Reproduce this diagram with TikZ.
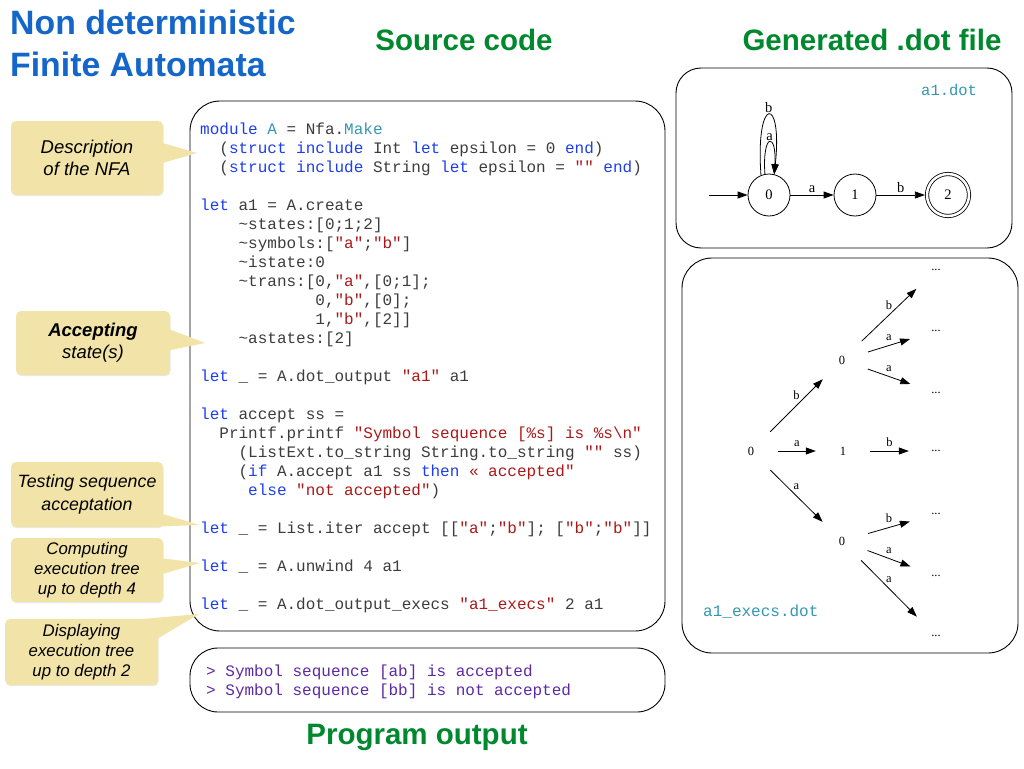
\documentclass[tikz,border=0pt]{standalone}
\usepackage{fontspec}
\setmainfont{Liberation Serif}
\newfontfamily\sansfont{Liberation Sans}
\newfontfamily\codefont{Liberation Mono}
\usetikzlibrary{arrows.meta,calc,shadows}

\definecolor{titleblue}{RGB}{20,102,200}
\definecolor{titlegreen}{RGB}{0,136,46}
\definecolor{kwblue}{RGB}{28,62,235}
\definecolor{modteal}{RGB}{52,150,178}
\definecolor{strred}{RGB}{172,24,24}
\definecolor{codegray}{RGB}{60,60,60}
\definecolor{outpurple}{RGB}{92,40,165}
\definecolor{notefill}{RGB}{242,228,168}

% syntax colouring helpers for the OCaml listing
\newcommand\kw[1]{\textcolor{kwblue}{#1}}
\newcommand\cmod[1]{\textcolor{modteal}{#1}}
\newcommand\cstr[1]{\textcolor{strred}{#1}}

\begin{document}
\begin{tikzpicture}[x=1pt,y=-1pt,
  panel/.style={draw=black, line width=0.9pt, inner sep=0pt},
  title/.style={anchor=base west, inner sep=0pt, text=titleblue,
    font=\sansfont\bfseries\fontsize{33.8}{40}\selectfont},
  heading/.style={anchor=base, inner sep=0pt, text=titlegreen,
    font=\sansfont\bfseries\fontsize{29.5}{34}\selectfont},
  code/.style={anchor=base west, inner sep=0pt, text=codegray,
    font=\codefont\fontsize{16}{19}\selectfont},
  outline/.style={code, text=outpurple},
  filename/.style={anchor=base west, inner sep=0pt, text=modteal,
    font=\codefont\fontsize{15.5}{18}\selectfont},
  note/.style={fill=notefill, rounded corners=5pt, inner sep=0pt, align=center,
    text=black, font=\sansfont\itshape\fontsize{18.5}{22}\selectfont,
    drop shadow={opacity=0.18, shadow xshift=0.6pt, shadow yshift=-1.2pt}},
  smallnote/.style={note, font=\sansfont\itshape\fontsize{16.8}{20}\selectfont},
  state/.style={circle, draw, line width=0.8pt, minimum size=42pt, inner sep=0pt,
    font=\fontsize{14.5}{16}\selectfont},
  dotedge/.style={line width=0.8pt, -{Triangle[length=10pt,width=7pt]}},
  elabel/.style={font=\fontsize{14.5}{16}\selectfont, inner sep=1.5pt},
  tnode/.style={circle, minimum size=54pt, inner sep=0pt,
    font=\fontsize{12.5}{14}\selectfont},
  tedge/.style={line width=0.8pt, -{Triangle[length=10pt,width=7pt]}},
  tlabel/.style={font=\fontsize{12.5}{14}\selectfont, inner sep=1.5pt}
]
\useasboundingbox (0,0) rectangle (1024,768);

% ---------- titles ----------
\node[title] (title1) at (10,35) {Non deterministic};
\node[title] (title2) at (10,76) {Finite Automata};
\node[heading] (hsrc) at (464,50) {Source code};
\node[heading] (hdot) at (872,50) {Generated .dot file};
\node[heading] (hout) at (417,744) {Program output};

% ---------- panels ----------
\node[panel, rounded corners=30pt, minimum width=475pt, minimum height=530pt] (codebox) at (427.5,366) {};
\node[panel, rounded corners=28pt, minimum width=475pt, minimum height=64pt] (outbox) at (427.5,680) {};
\node[panel, rounded corners=25pt, minimum width=336pt, minimum height=180pt] (dotbox) at (844,158) {};
\node[panel, rounded corners=30pt, minimum width=336pt, minimum height=395pt] (execbox) at (850,455.5) {};

% ---------- source code ----------
\node[code] (cl1)  at (200,134.5) {\kw{module} \cmod{A} = Nfa.\cmod{Make}};
\node[code] (cl2)  at (219.2,153.5) {(\kw{struct} \kw{include} Int \kw{let} epsilon = 0 \kw{end})};
\node[code] (cl3)  at (219.2,172.5) {(\kw{struct} \kw{include} String \kw{let} epsilon = \cstr{""} \kw{end})};
\node[code] (cl5)  at (200,210.5) {\kw{let} a1 = A.create};
\node[code] (cl6)  at (238.4,229.5) {\textasciitilde states:[0;1;2]};
\node[code] (cl7)  at (238.4,248.5) {\textasciitilde symbols:[\cstr{"a"};\cstr{"b"}]};
\node[code] (cl8)  at (238.4,267.5) {\textasciitilde istate:0};
\node[code] (cl9)  at (238.4,286.5) {\textasciitilde trans:[0,\cstr{"a"},[0;1];};
\node[code] (cl10) at (315.2,305.5) {0,\cstr{"b"},[0];};
\node[code] (cl11) at (315.2,324.5) {1,\cstr{"b"},[2]]};
\node[code] (cl12) at (238.4,343.5) {\textasciitilde astates:[2]};
\node[code] (cl14) at (200,381.5) {\kw{let} \_ = A.dot\_output \cstr{"a1"} a1};
\node[code] (cl16) at (200,419.5) {\kw{let} accept ss =};
\node[code] (cl17) at (219.2,438.5) {Printf.printf \cstr{"Symbol sequence [\%s] is \%s\textbackslash n"}};
\node[code] (cl18) at (238.4,457.5) {(ListExt.to\_string String.to\_string \cstr{""} ss)};
\node[code] (cl19) at (238.4,476.5) {(\kw{if} A.accept a1 ss \kw{then} \cstr{« accepted"}};
\node[code] (cl20) at (248,495.5) {\kw{else} \cstr{"not accepted"})};
\node[code] (cl22) at (200,533.5) {\kw{let} \_ = List.iter accept [[\cstr{"a"};\cstr{"b"}]; [\cstr{"b"};\cstr{"b"}]]};
\node[code] (cl24) at (200,571.5) {\kw{let} \_ = A.unwind 4 a1};
\node[code] (cl26) at (200,609.5) {\kw{let} \_ = A.dot\_output\_execs \cstr{"a1\_execs"} 2 a1};

% ---------- program output ----------
\node[outline] (out1) at (206,676) {> Symbol sequence [ab] is accepted};
\node[outline] (out2) at (206,695) {> Symbol sequence [bb] is not accepted};

% ---------- a1.dot : the automaton ----------
\node[filename] (dotname) at (921,95) {a1.dot};
\node[state] (q0) at (769,195) {0};
\node[state] (q1) at (855,195) {1};
\node[state, double, double distance=2.5pt, outer sep=2.1pt] (q2) at (948,195) {2};
\coordinate (init) at (709,195);
\draw[dotedge] (init) -- (q0);
\draw[dotedge] (q0) -- (q1) node[elabel, midway, above=0.5pt] {a};
\draw[dotedge] (q1) -- (q2) node[elabel, midway, above=0.5pt] {b};
\draw[dotedge] (q0.112) .. controls (755,95) and (783,95) .. (q0.76)
  node[elabel, pos=0.5, above=0pt] {b};
\draw[dotedge] (q0.101) .. controls (762,132) and (777,132) .. (q0.76)
  node[elabel, pos=0.5, above=0pt] {a};

% ---------- a1_execs.dot : execution tree ----------
\node[filename, font=\codefont\fontsize{16}{18}\selectfont] (execname) at (703,616) {a1\_execs.dot};
\node[tnode] (r0) at (751,451) {0};
\node[tnode] (u0) at (842,360) {0};
\node[tnode] (m1) at (843,451) {1};
\node[tnode] (l0) at (842,541) {0};
\node[tnode] (d1) at (936,270) {...};
\node[tnode] (d2) at (936,331) {...};
\node[tnode] (d3) at (936,393) {...};
\node[tnode] (d4) at (936,451) {...};
\node[tnode] (d5) at (936,514) {...};
\node[tnode] (d6) at (936,576) {...};
\node[tnode] (d7) at (936,636) {...};
\draw[tedge] (r0) -- (u0) node[tlabel, midway, above=4pt] {b};
\draw[tedge] (r0) -- (m1) node[tlabel, midway, above=2pt] {a};
\draw[tedge] (r0) -- (l0) node[tlabel, midway, above=4pt] {a};
\draw[tedge] (u0) -- (d1) node[tlabel, midway, above=3pt] {b};
\draw[tedge] (u0) -- (d2) node[tlabel, midway, above=3pt] {a};
\draw[tedge] (u0) -- (d3) node[tlabel, midway, above=3pt] {a};
\draw[tedge] (m1) -- (d4) node[tlabel, midway, above=2pt] {b};
\draw[tedge] (l0) -- (d5) node[tlabel, midway, above=3pt] {b};
\draw[tedge] (l0) -- (d6) node[tlabel, midway, above=3pt] {a};
\draw[tedge] (l0) -- (d7) node[tlabel, midway, above=4pt] {a};

% ---------- annotations ----------
\node[note, minimum width=152pt, minimum height=74pt] (c1) at (87,158) {Description\\of the NFA};
\coordinate (t1) at (197,153);
\fill[notefill] ($(c1.east)+(-4,-16)$) -- (t1) -- ($(c1.east)+(-4,6)$) -- cycle;

\node[note, minimum width=154pt, minimum height=64pt] (c2) at (93,343) {{\bfseries Accepting}\\state(s)};
\coordinate (t2) at (205,343);
\fill[notefill] ($(c2.east)+(-4,-15)$) -- (t2) -- ($(c2.east)+(-4,8)$) -- cycle;

\node[note, font=\sansfont\itshape\fontsize{17.8}{23}\selectfont, minimum width=152pt, minimum height=65pt] (c3) at (87,494.5) {Testing sequence\\acceptation};
\coordinate (t3) at (200,525);
\fill[notefill] ($(c3.east)+(-4,18.5)$) -- (t3) -- ($(c3.east)+(-5,32)$) -- cycle;

\node[smallnote, minimum width=152pt, minimum height=64pt] (c4) at (87,570) {Computing\\execution tree\\up to depth 4};
\coordinate (t4) at (200,563);
\fill[notefill] ($(c4.east)+(-4,-12)$) -- (t4) -- ($(c4.east)+(-4,5)$) -- cycle;

\node[smallnote, minimum width=153pt, minimum height=66pt] (c5) at (81.5,652) {Displaying\\execution tree\\up to depth 2};
\coordinate (t5) at (199,614);
\fill[notefill] ($(c5.north east)+(-25,1)$) -- (t5) -- ($(c5.north east)+(-1,20)$) -- cycle;

\end{tikzpicture}
\end{document}
